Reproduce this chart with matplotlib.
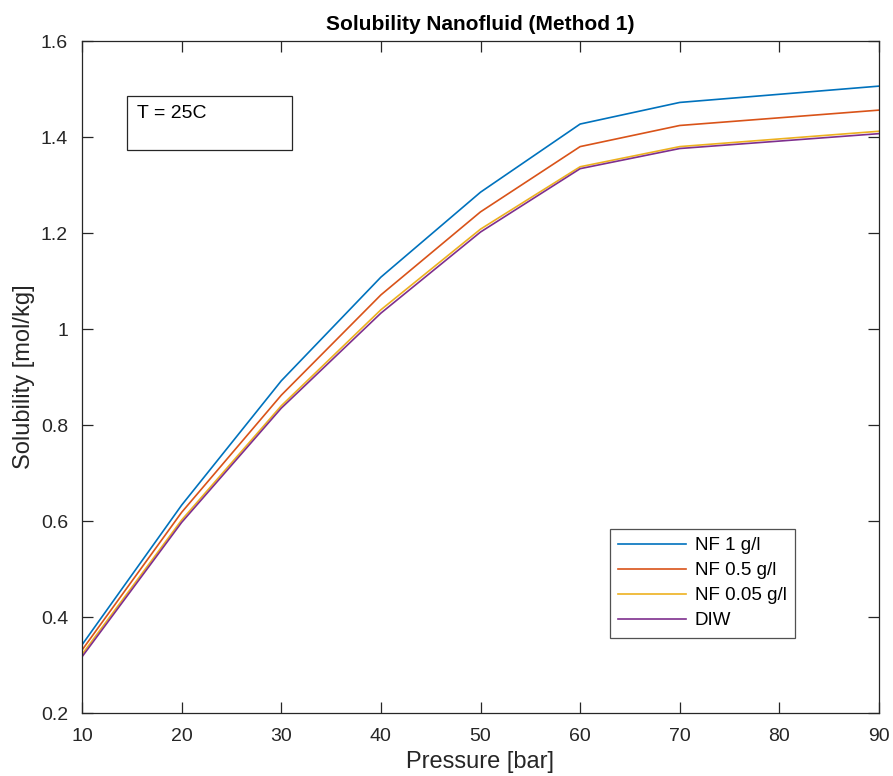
import matplotlib
matplotlib.use('Agg')
import matplotlib.pyplot as plt
from matplotlib.patches import Rectangle

plt.rcParams['font.family'] = ['Liberation Sans', 'DejaVu Sans']

pressure = [10, 20, 30, 40, 50, 60, 70, 90]
nf_1 = [0.342, 0.633, 0.892, 1.108, 1.285, 1.427, 1.472, 1.506]
nf_05 = [0.331, 0.618, 0.862, 1.071, 1.244, 1.380, 1.424, 1.456]
nf_005 = [0.322, 0.602, 0.840, 1.040, 1.208, 1.338, 1.380, 1.412]
diw = [0.317, 0.597, 0.835, 1.033, 1.202, 1.334, 1.376, 1.407]

labels = ['NF 1 g/l', 'NF 0.5 g/l', 'NF 0.05 g/l', 'DIW']
colors = ['#0072BD', '#D95319', '#EDB120', '#7E2F8E']
axcol = '#262626'

fig = plt.figure(figsize=(8.93, 7.76), dpi=100)
ax = fig.add_axes([82/893, 63/776, 797/893, 672/776])

for ys, lab, c in zip([nf_1, nf_05, nf_005, diw], labels, colors):
    ax.plot(pressure, ys, color=c, lw=1.2, label=lab)

ax.set_xlim(10, 90)
ax.set_ylim(0.2, 1.6)
ax.set_xticks(range(10, 91, 10))
ax.set_yticks([0.2, 0.4, 0.6, 0.8, 1.0, 1.2, 1.4, 1.6])
ax.set_yticklabels(['0.2', '0.4', '0.6', '0.8', '1', '1.2', '1.4', '1.6'])
ax.tick_params(direction='in', length=8, width=0.9, top=True, right=True,
               labelsize=14, colors=axcol)
ax.tick_params(axis='x', pad=11)
ax.tick_params(axis='y', pad=10)
for s in ax.spines.values():
    s.set_color(axcol)
    s.set_linewidth(0.9)

ax.set_xlabel('Pressure [bar]', fontsize=17, color=axcol, labelpad=4)
ax.set_ylabel('Solubility [mol/kg]', fontsize=17, color=axcol, labelpad=4)
ax.set_title('Solubility Nanofluid (Method 1)', fontsize=15, fontweight='bold', pad=8)

# annotation box
box = Rectangle((127/893, 1 - 150/776), 165/893, 54/776, transform=fig.transFigure,
                fill=False, edgecolor=axcol, lw=0.9)
fig.patches.append(box)
fig.text(137/893, 1 - 114/776, 'T = 25C', fontsize=14, color='black', va='center')

leg = ax.legend(loc='lower left', bbox_to_anchor=(0.662, 0.112), fontsize=13.5,
                frameon=True, fancybox=False, handlelength=3.6, handletextpad=0.5,
                labelspacing=0.42, borderpad=0.45, borderaxespad=0)
leg.get_frame().set_edgecolor(axcol)
leg.get_frame().set_linewidth(0.9)

fig.savefig('out.png', dpi=100)
